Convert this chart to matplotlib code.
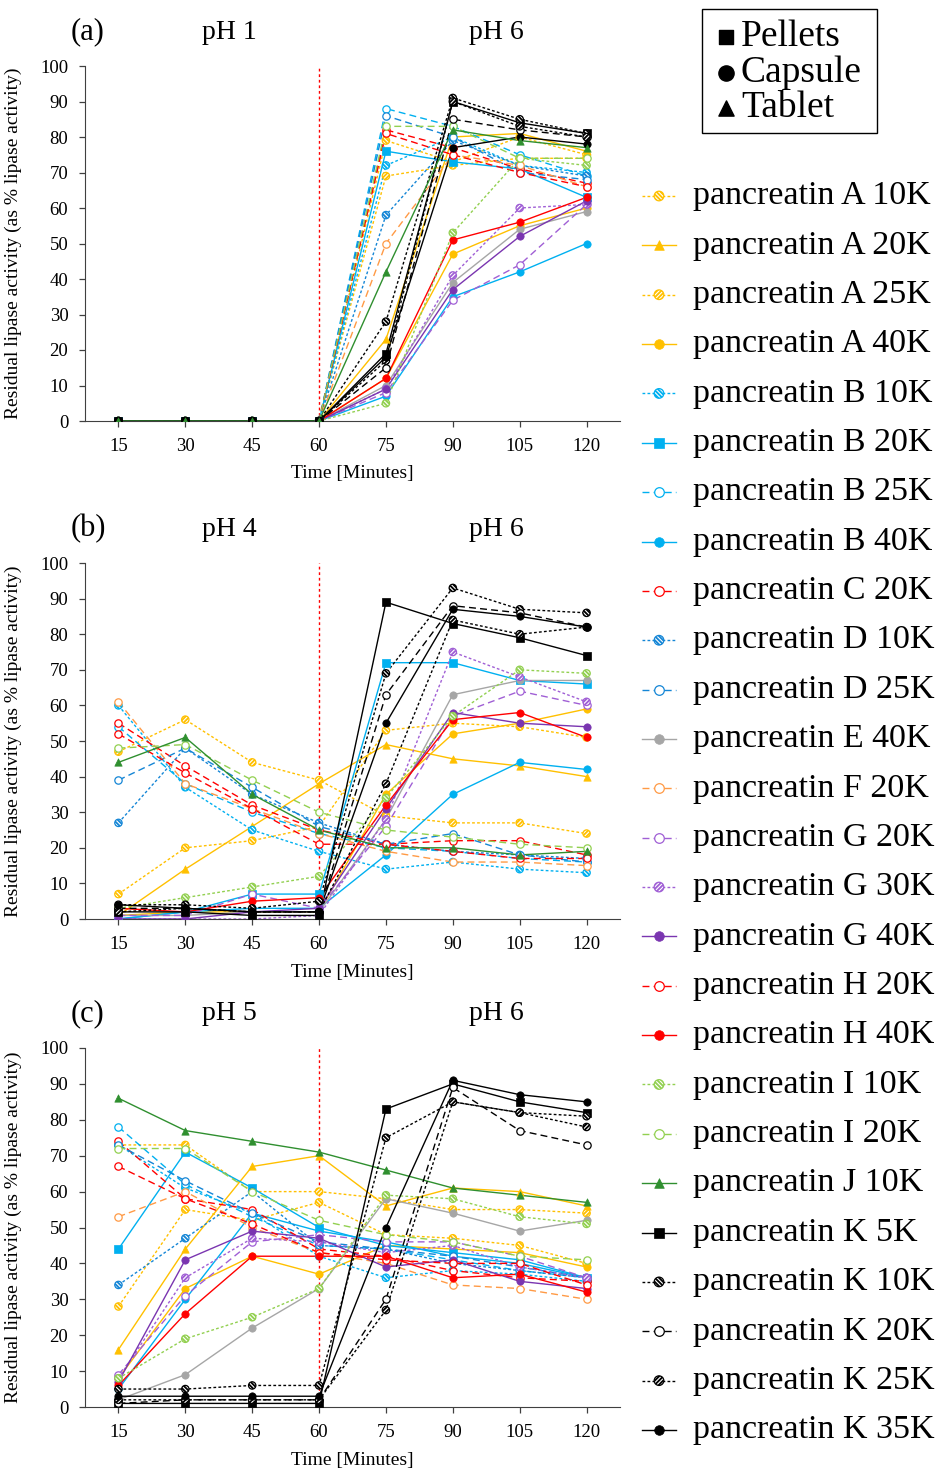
import numpy as np
import matplotlib
matplotlib.use('Agg')
import matplotlib.pyplot as plt
from matplotlib.patches import Rectangle

plt.rcParams['font.family'] = ['Liberation Serif', 'DejaVu Serif']
plt.rcParams['hatch.linewidth'] = 0.8

# -----------------------------
# Data
# -----------------------------
times = [15, 30, 45, 60, 75, 90, 105, 120]

names = ['pancreatin A 10K', 'pancreatin A 20K', 'pancreatin A 25K', 'pancreatin A 40K',
         'pancreatin B 10K', 'pancreatin B 20K', 'pancreatin B 25K', 'pancreatin B 40K',
         'pancreatin C 20K', 'pancreatin D 10K', 'pancreatin D 25K', 'pancreatin E 40K',
         'pancreatin F 20K', 'pancreatin G 20K', 'pancreatin G 30K', 'pancreatin G 40K',
         'pancreatin H 20K', 'pancreatin H 40K', 'pancreatin I 10K', 'pancreatin I 20K',
         'pancreatin J 10K', 'pancreatin K 5K', 'pancreatin K 10K', 'pancreatin K 20K',
         'pancreatin K 25K', 'pancreatin K 35K']

# (a) pH 1 -> pH 6
panel_a = [
    [0, 0, 0, 0, 79, 73, 80, 75],
    [0, 0, 0, 0, 23, 80, 81, 76],
    [0, 0, 0, 0, 69, 72, 74, 74],
    [0, 0, 0, 0, 12, 47, 55, 60],
    [0, 0, 0, 0, 72, 80, 72, 70],
    [0, 0, 0, 0, 76, 73, 71, 63],
    [0, 0, 0, 0, 88, 83, 75, 69],
    [0, 0, 0, 0, 7, 35, 42, 50],
    [0, 0, 0, 0, 82, 77, 71, 67],
    [0, 0, 0, 0, 58, 79, 72, 69],
    [0, 0, 0, 0, 86, 80, 70, 68],
    [0, 0, 0, 0, 10, 39, 54, 59],
    [0, 0, 0, 0, 50, 75, 72, 66],
    [0, 0, 0, 0, 8, 34, 44, 61],
    [0, 0, 0, 0, 9, 41, 60, 61],
    [0, 0, 0, 0, 9, 37, 52, 62],
    [0, 0, 0, 0, 81, 75, 70, 66],
    [0, 0, 0, 0, 12, 51, 56, 63],
    [0, 0, 0, 0, 5, 53, 74, 72],
    [0, 0, 0, 0, 83, 83, 74, 74],
    [0, 0, 0, 0, 42, 82, 79, 77],
    [0, 0, 0, 0, 19, 90, 84, 81],
    [0, 0, 0, 0, 28, 91, 85, 81],
    [0, 0, 0, 0, 15, 85, 82, 80],
    [0, 0, 0, 0, 17, 90, 83, 80],
    [0, 0, 0, 0, 18, 77, 80, 78],
]

# (b) pH 4 -> pH 6
panel_b = [
    [7, 20, 22, 26, 53, 55, 54, 51],
    [1, 14, 26, 38, 49, 45, 43, 40],
    [47, 56, 44, 39, 29, 27, 27, 24],
    [1, 2, 2, 2, 35, 52, 55, 59],
    [60, 37, 25, 19, 14, 16, 14, 13],
    [0, 2, 7, 7, 72, 72, 67, 66],
    [54, 38, 30, 24, 20, 19, 17, 16],
    [0, 2, 3, 3, 18, 35, 44, 42],
    [55, 43, 32, 25, 21, 22, 22, 18],
    [27, 48, 35, 27, 21, 19, 18, 17],
    [39, 48, 37, 26, 21, 24, 18, 16],
    [1, 1, 2, 2, 28, 63, 67, 67],
    [61, 38, 31, 24, 19, 16, 16, 15],
    [1, 1, 7, 3, 26, 57, 64, 60],
    [0, 0, 0, 1, 28, 75, 68, 61],
    [0, 0, 2, 3, 31, 58, 55, 54],
    [52, 41, 31, 21, 21, 19, 17, 17],
    [3, 2, 5, 6, 32, 56, 58, 51],
    [3, 6, 9, 12, 34, 57, 70, 69],
    [48, 49, 39, 30, 25, 23, 21, 20],
    [44, 51, 35, 25, 20, 20, 18, 19],
    [2, 2, 1, 1, 89, 83, 79, 74],
    [4, 4, 3, 5, 69, 93, 87, 86],
    [3, 3, 2, 2, 63, 88, 86, 82],
    [2, 3, 2, 2, 38, 84, 80, 82],
    [4, 3, 2, 2, 55, 87, 85, 82],
]

# (c) pH 5 -> pH 6
panel_c = [
    [28, 55, 52, 57, 48, 47, 45, 40],
    [16, 44, 67, 70, 56, 61, 60, 56],
    [73, 73, 60, 60, 58, 55, 55, 54],
    [8, 33, 42, 37, 45, 44, 43, 39],
    [73, 61, 54, 42, 36, 38, 37, 35],
    [44, 71, 61, 50, 45, 43, 41, 36],
    [78, 62, 53, 45, 44, 41, 38, 36],
    [5, 30, 54, 49, 46, 42, 40, 36],
    [74, 58, 55, 44, 42, 38, 36, 35],
    [34, 47, 60, 45, 44, 40, 38, 36],
    [73, 63, 54, 46, 44, 42, 39, 36],
    [2, 9, 22, 33, 58, 54, 49, 52],
    [53, 60, 50, 43, 40, 34, 33, 30],
    [9, 31, 46, 48, 46, 46, 42, 36],
    [8, 36, 47, 46, 43, 45, 39, 36],
    [7, 41, 49, 47, 39, 41, 35, 33],
    [67, 58, 51, 43, 41, 40, 40, 34],
    [6, 26, 42, 42, 42, 36, 37, 32],
    [8, 19, 25, 33, 59, 58, 53, 51],
    [72, 72, 60, 52, 48, 46, 42, 41],
    [86, 77, 74, 71, 66, 61, 59, 57],
    [1, 1, 1, 1, 83, 90, 85, 82],
    [5, 5, 6, 6, 75, 85, 82, 81],
    [1, 2, 2, 2, 30, 89, 77, 73],
    [2, 2, 2, 2, 27, 85, 82, 78],
    [3, 3, 3, 3, 50, 91, 87, 85],
]

# -----------------------------
# Styles (colour, line, marker)
# -----------------------------
gold, cyan, red, dblue = '#FFC000', '#00B0F0', '#FF0000', '#1586D6'
grey, orange, lpurple, dpurple = '#A6A6A6', '#FF9A45', '#A05FD5', '#7A35B0'
lgreen, dgreen, black = '#92D050', '#2F8F2F', '#000000'

styles = [
    (gold, 'dot', 'hatchb'), (gold, 'solid', 'tri'), (gold, 'dot', 'hatchf'), (gold, 'solid', 'circle'),
    (cyan, 'dot', 'hatchb'), (cyan, 'solid', 'square'), (cyan, 'dash', 'open'), (cyan, 'solid', 'circle'),
    (red, 'dash', 'open'), (dblue, 'dot', 'hatchb'), (dblue, 'dash', 'open'), (grey, 'solid', 'circle'),
    (orange, 'dash', 'open'), (lpurple, 'dash', 'open'), (lpurple, 'dot', 'hatchf'), (dpurple, 'solid', 'circle'),
    (red, 'dash', 'open'), (red, 'solid', 'circle'), (lgreen, 'dot', 'hatchb'), (lgreen, 'dash', 'open'),
    (dgreen, 'solid', 'tri'), (black, 'solid', 'square'), (black, 'dot', 'hatchb'), (black, 'dash', 'open'),
    (black, 'dot', 'hatchf'), (black, 'solid', 'circle'),
]

LS = {'dot': (0, (2, 1.6)), 'dash': (0, (5, 3)), 'solid': '-'}


def draw_markers(ax, x, y, col, mk, s, z):
    if mk.startswith('hatch'):
        # coloured disc with thin white stripes, then a coloured outline
        h = '\\\\\\\\\\\\\\\\' if mk == 'hatchb' else '////////'
        ax.scatter(x, y, s=s, marker='o', facecolor=col, edgecolor='white',
                   hatch=h, linewidths=0, zorder=z)
        ax.scatter(x, y, s=s, marker='o', facecolor='none', edgecolor=col,
                   linewidths=0.9, zorder=z + 0.001)
    elif mk == 'open':
        ax.scatter(x, y, s=s, marker='o', facecolor='white', edgecolor=col,
                   linewidths=0.9, zorder=z)
    else:
        m = {'circle': 'o', 'square': 's', 'tri': '^'}[mk]
        ax.scatter(x, y, s=s, marker=m, facecolor=col, edgecolor=col,
                   linewidths=0.5, zorder=z)


# -----------------------------
# Figure
# -----------------------------
W, H = 952, 1470
fig = plt.figure(figsize=(W / 100, H / 100), dpi=100)

# data, bottom px, height px, tag, first pH, series drawn on top
panels = [
    (panel_a, 421, 355, '(a)', 'pH 1', 20),
    (panel_b, 919, 356, '(b)', 'pH 4', None),
    (panel_c, 1407, 359, '(c)', 'pH 5', None),
]

x = np.arange(len(times))
for data, ybot, hgt, tag, ph, top in panels:
    ax = fig.add_axes([85 / W, 1 - ybot / H, 535 / W, hgt / H])
    for i, vals in enumerate(data):
        col, ls, mk = styles[i]
        zb = 0.5 if i == top else i * 0.01
        ax.plot(x, vals, color=col, lw=1.0, linestyle=LS[ls], zorder=2 + zb)
        draw_markers(ax, x, vals, col, mk, 28, 3 + zb)
    ax.axvline(3, color=red, lw=1.0, linestyle=(0, (2, 2)), zorder=1)
    ax.set_xlim(-0.5, 7.5)
    ax.set_ylim(0, 100)
    ax.set_xticks(x)
    ax.set_xticklabels([str(t) for t in times])
    ax.set_yticks(range(0, 101, 10))
    for sp in ['top', 'right']:
        ax.spines[sp].set_visible(False)
    for sp in ['left', 'bottom']:
        ax.spines[sp].set_color('#404040')
    ax.tick_params(axis='both', direction='out', length=4, width=0.9, color='#404040',
                   labelsize=13.5, pad=8)
    ax.set_xlabel('Time [Minutes]', fontsize=14)
    ax.xaxis.set_label_coords(0.5, -0.125)
    ax.set_ylabel('Residual lipase activity (as % lipase activity)', fontsize=14)
    ax.yaxis.set_label_coords(-0.118, 0.5)

# overlay for labels and legend, in pixel coordinates
ov = fig.add_axes([0, 0, 1, 1])
ov.set_xlim(0, W)
ov.set_ylim(H, 0)
ov.axis('off')
ov.patch.set_visible(False)

for (data, ybot, hgt, tag, ph, top) in panels:
    ytxt = ybot - hgt - 34
    ov.text(88, ytxt, tag, fontsize=22, ha='center', va='center')
    ov.text(229, ytxt, ph, fontsize=20, ha='center', va='center')
    ov.text(496, ytxt, 'pH 6', fontsize=20, ha='center', va='center')

# top box legend (dosage forms)
ov.add_patch(Rectangle((702, 9), 175, 124, facecolor='white', edgecolor='black', lw=1.0))
form_names = ['Pellets', 'Capsule', 'Tablet']
form_markers = ['s', 'o', '^']
for k, (fn, fm) in enumerate(zip(form_names, form_markers)):
    yy = 37 + k * 35.5
    ov.scatter([726], [yy], s=120 if fm != 's' else 95, marker=fm, color='black')
    ov.text(741, yy, fn, fontsize=27, ha='left', va='center')

# series legend
row0, step = 196, (1430 - 196) / (len(names) - 1)
for i, nm in enumerate(names):
    col, ls, mk = styles[i]
    yy = row0 + i * step
    ov.plot([642, 676], [yy, yy], color=col, lw=1.0, linestyle=LS[ls])
    draw_markers(ov, [659], [yy], col, mk, 48, 5)
    ov.text(693, yy, nm, fontsize=24.5, ha='left', va='center')

fig.savefig('out.png', dpi=100)
